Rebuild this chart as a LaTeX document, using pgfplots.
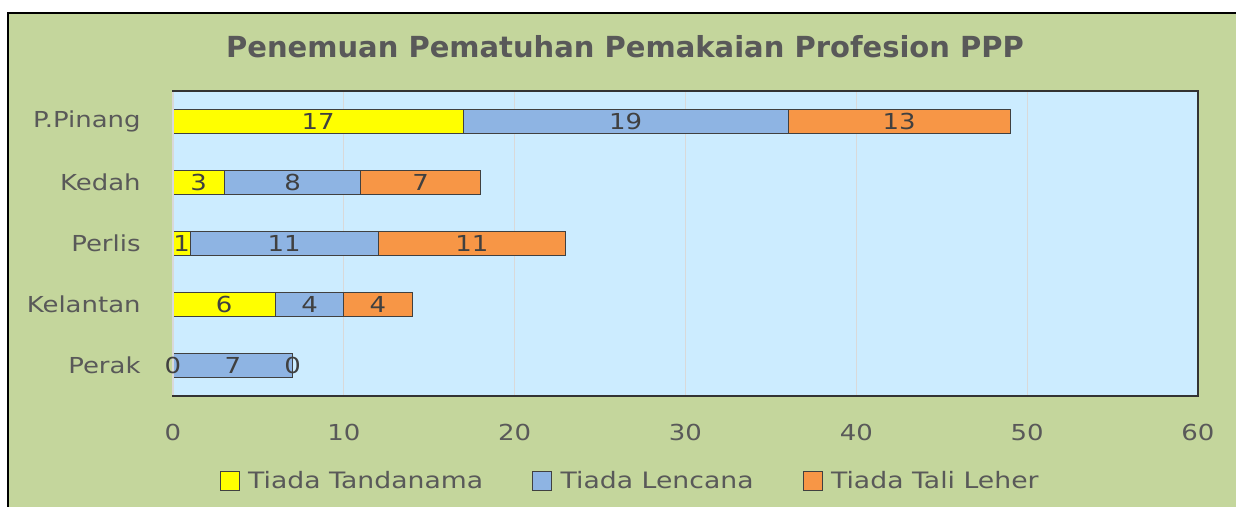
\documentclass[border=0pt]{standalone}
\usepackage{fontspec}
\setmainfont{DejaVu Sans}[FakeStretch=1.18]
\newfontfamily\titlefont{DejaVu Sans}
\usepackage{pgfplots}
\pgfplotsset{compat=1.18}

\definecolor{bggreen}{HTML}{C4D69C}
\definecolor{plotblue}{HTML}{CCECFF}
\definecolor{cyel}{HTML}{FFFF00}
\definecolor{cblue}{HTML}{8EB4E3}
\definecolor{corange}{HTML}{F79646}
\definecolor{txt}{HTML}{595959}
\definecolor{lbl}{HTML}{404040}
\definecolor{gridc}{HTML}{D9D9D9}

\pgfplotsset{
  chartbox/.style={
    at={(86.5pt,-198pt)}, anchor=south west,
    scale only axis, width=512.5pt, height=152.5pt,
    xmin=0, xmax=60, ymin=-0.5, ymax=4.5,
  },
}

\begin{document}
\begin{tikzpicture}[x=0.5pt,y=-0.5pt]
\fill[white] (0,0) rectangle (1236,507);
\useasboundingbox (0,0) rectangle (1236,507);
\fill[bggreen] (8,13) rectangle (1236,507);
\draw[black, line width=1pt] (8,507) -- (8,13) -- (1236,13);
\node[txt, font=\titlefont\bfseries\fontsize{14.5}{17}\selectfont] at (625,47)
  {Penemuan Pematuhan Pemakaian Profesion PPP};

\begin{axis}[
  chartbox,
  xbar stacked, bar width=12pt,
  xtick={0,10,...,60}, ytick={0,...,4},
  yticklabels={Perak,Kelantan,Perlis,Kedah,P.Pinang},
  xmajorgrids, grid style={gridc, line width=0.6pt},
  major tick length=0pt,
  axis background/.style={fill=plotblue},
  axis line style={draw=black!80, line width=0.6pt},
  tick label style={txt, font=\fontsize{11}{13}\selectfont},
  /pgf/number format/assume math mode=true,
  xticklabel style={anchor=center, yshift=-18pt},
  yticklabel style={anchor=east, inner sep=0pt, xshift=-16pt},
  legend style={at={(0.447,-0.28)}, anchor=center, legend columns=3,
    draw=none, fill=none, text=txt, font=\fontsize{11.3}{13}\selectfont,
    /tikz/every even column/.append style={column sep=22.5pt}},
  legend image code/.code={\draw[#1] (0pt,-4.75pt) rectangle (9.5pt,4.75pt);
    \path[draw=none, fill=none] (0pt,0pt) -- (12pt,0pt);},
]
\addplot[fill=cyel, draw=lbl, line width=0.5pt] coordinates {(0,0) (6,1) (1,2) (3,3) (17,4)};
\addplot[fill=cblue, draw=lbl, line width=0.5pt] coordinates {(7,0) (4,1) (11,2) (8,3) (19,4)};
\addplot[fill=corange, draw=lbl, line width=0.5pt] coordinates {(0,0) (4,1) (11,2) (7,3) (13,4)};
\legend{Tiada Tandanama, Tiada Lencana, Tiada Tali Leher}
\end{axis}

% data labels, centred in each segment
\begin{axis}[chartbox, hide axis, clip=false]
\draw[gridc, line width=0.8pt] (rel axis cs:0,0.004) -- (rel axis cs:0,0.996);
\addplot[only marks, mark=none,
  nodes near coords, point meta=explicit symbolic,
  nodes near coords style={anchor=center, text=lbl, font=\fontsize{11}{13}\selectfont}]
  coordinates {
    (0,0)[0] (3,1)[6] (0.5,2)[1] (1.5,3)[3] (8.5,4)[17]
    (3.5,0)[7] (8,1)[4] (6.5,2)[11] (7,3)[8] (26.5,4)[19]
    (7,0)[0] (12,1)[4] (17.5,2)[11] (14.5,3)[7] (42.5,4)[13]
  };
\end{axis}
\end{tikzpicture}
\end{document}
